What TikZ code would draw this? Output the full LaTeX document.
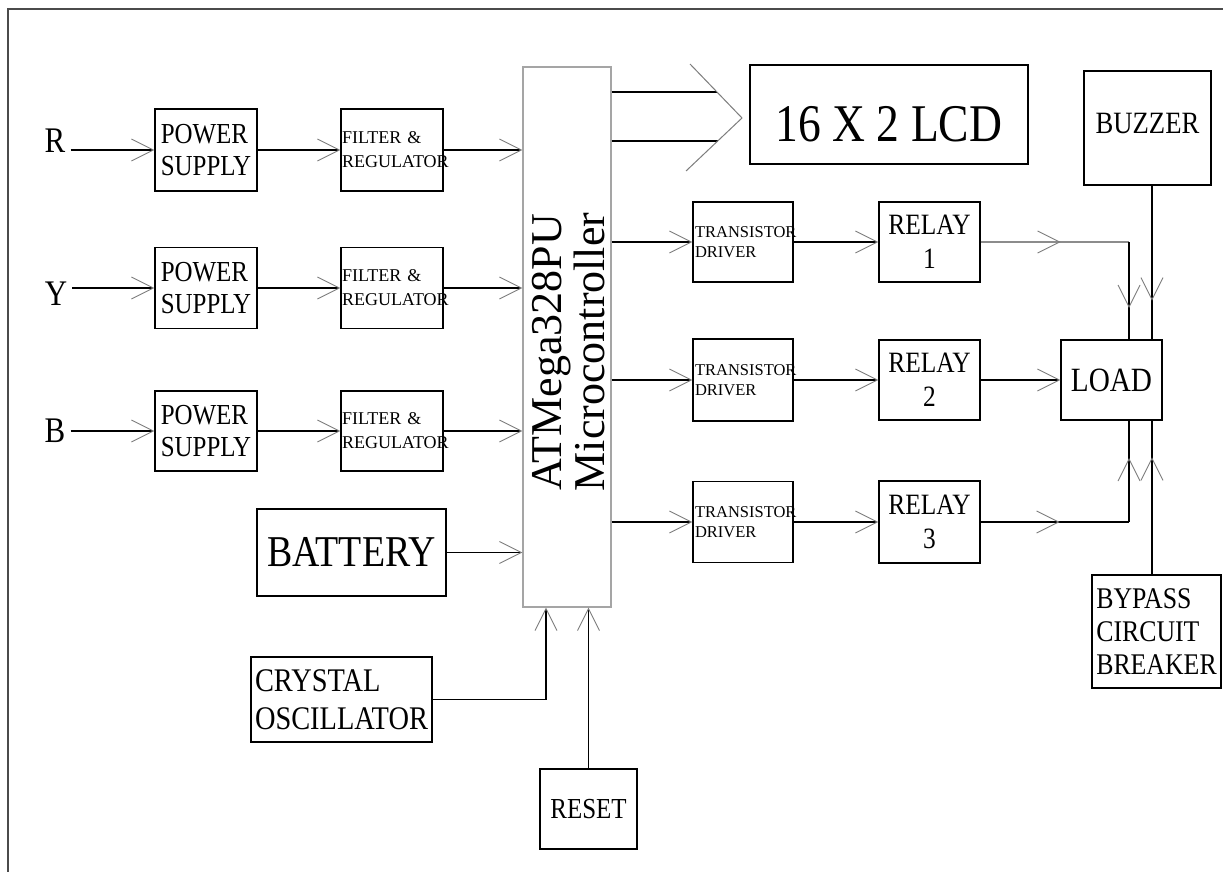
\documentclass[tikz,border=0pt]{standalone}
\usepackage{fontspec}
\setmainfont{Liberation Serif}[FakeStretch=0.86]
\newfontfamily\plainfont{Liberation Serif}
\usetikzlibrary{arrows.meta,decorations.markings}
\definecolor{arrgray}{RGB}{125,125,125}
\definecolor{mcugray}{RGB}{165,165,165}
\definecolor{framegray}{RGB}{75,75,75}
\definecolor{lgray}{RGB}{140,140,140}
\newcommand\fsz[2]{\fontsize{#1pt}{#2pt}\selectfont}
\newcommand\barb{\arrow{Straight Barb[length=22pt,width=22pt,color=arrgray,line width=0.9pt]}}
\tikzset{
  box/.style={draw=black, line width=1.2pt, inner sep=2pt, align=center},
  conn/.style={line width=1.1pt, draw=black},
  arr/.style={conn, -{Straight Barb[length=22pt,width=22pt,color=arrgray,line width=0.9pt]}},
  midarr/.style={postaction={decorate}, decoration={markings, mark=at position #1 with {\barb}}},
  lbl/.style={font=\fsz{36}{36}, inner xsep=5pt, inner ysep=0pt},
  psbox/.style={box, minimum width=102pt, font=\fsz{29}{32}, align=left},
  filtbox/.style={box, minimum width=102pt, font=\plainfont\fsz{18}{24}, align=left, text width=100pt, inner xsep=1pt},
  tdbox/.style={box, minimum width=100pt, font=\plainfont\fsz{16.5}{20}, align=left, text width=96pt, inner xsep=2pt},
  relaybox/.style={box, minimum width=101pt, font=\fsz{29.5}{34}},
}
\begin{document}
\begin{tikzpicture}[x=1pt,y=-1pt]
\useasboundingbox (0,0) rectangle (1223,872);
\fill[white] (0,0) rectangle (1223,872);
\draw[framegray, line width=2pt] (8,872) -- (8,9.5) -- (1223,9.5);

% phase labels
\node[lbl, anchor=base] (lr) at (55,153) {R};
\node[lbl, anchor=base] (ly) at (56,305) {Y};
\node[lbl, anchor=base] (lb) at (55,442) {B};

% power supplies
\node[psbox, minimum height=82pt] (ps1) at (206,150) {POWER\\SUPPLY};
\node[psbox, minimum height=81pt] (ps2) at (206,288) {POWER\\SUPPLY};
\node[psbox, minimum height=80pt] (ps3) at (206,431) {POWER\\SUPPLY};

% filters
\node[filtbox, minimum height=82pt] (f1) at (392,150) {FILTER \&\\REGULATOR};
\node[filtbox, minimum height=81pt] (f2) at (392,288) {FILTER \&\\REGULATOR};
\node[filtbox, minimum height=80pt] (f3) at (392,431) {FILTER \&\\REGULATOR};

% microcontroller
\node[draw=mcugray, line width=1.1pt, minimum width=88pt, minimum height=540pt, inner sep=0pt] (mcu) at (567,337) {};
\node[rotate=90, font=\plainfont\fsz{44}{43}, align=center, inner sep=0pt] (mcut) at (569,352) {ATMega328PU\\Microcontroller};

% battery, crystal, reset
\node[box, minimum width=189pt, minimum height=87pt, font=\fsz{44}{44}] (bat) at (351.5,552.5) {BATTERY};
\node[box, minimum width=181pt, minimum height=85pt, font=\fsz{33}{38}, align=left] (cry) at (341.5,699.5) {CRYSTAL\\OSCILLATOR};
\node[box, minimum width=97pt, minimum height=80pt, font=\fsz{29}{29}] (reset) at (588.5,809) {RESET};

% LCD
\node[box, minimum width=278pt, minimum height=99pt, font=\fsz{53}{53}, text height=60pt, text depth=5pt] (lcd) at (889,114.5) {16 X 2 LCD};

% drivers and relays
\node[tdbox, minimum height=80pt] (td1) at (743,242) {TRANSISTOR\\DRIVER};
\node[tdbox, minimum height=82pt] (td2) at (743,380) {TRANSISTOR\\DRIVER};
\node[tdbox, minimum height=81pt] (td3) at (743,522) {TRANSISTOR\\DRIVER};
\node[relaybox, minimum height=80pt] (r1) at (929.5,242) {RELAY\\1};
\node[relaybox, minimum height=80pt] (r2) at (929.5,380) {RELAY\\2};
\node[relaybox, minimum height=82pt] (r3) at (929.5,522) {RELAY\\3};

% right side
\node[box, minimum width=101pt, minimum height=80pt, font=\fsz{34}{34}] (load) at (1111.5,380) {LOAD};
\node[box, minimum width=127pt, minimum height=114pt, font=\fsz{31}{31}, text depth=10pt] (buzzer) at (1147.5,128) {BUZZER};
\node[box, minimum width=129pt, minimum height=113pt, font=\fsz{30}{33}, align=left] (bypass) at (1156.5,631.5) {BYPASS\\CIRCUIT\\BREAKER};

% helper coordinates
\coordinate (lx1) at (1129,0);
\coordinate (lx2) at (1152,0);
\coordinate (cx) at (546,0);
\coordinate (bA) at (717,92);
\coordinate (bB) at (718,141);
\coordinate (c1) at (690,64);
\coordinate (ctip) at (742,118);
\coordinate (c2) at (686,171);

% input chains
\draw[arr] (lr.east |- ps1.west) -- (ps1.west);
\draw[arr] (ly.east |- ps2.west) -- (ps2.west);
\draw[arr] (lb.east |- ps3.west) -- (ps3.west);
\draw[arr] (ps1.east) -- (f1.west);
\draw[arr] (ps2.east) -- (f2.west);
\draw[arr] (ps3.east) -- (f3.west);
\draw[arr] (f1.east) -- (f1.east -| mcu.west);
\draw[arr] (f2.east) -- (f2.east -| mcu.west);
\draw[arr] (f3.east) -- (f3.east -| mcu.west);
\draw[arr] (bat.east) -- (bat.east -| mcu.west);

% crystal and reset
\draw[arr] (cry.east) -- (cry.east -| cx) -- (cx |- mcu.south);
\draw[arr] (reset.north) -- (reset.north |- mcu.south);

% LCD bus
\draw[conn] (bA -| mcu.east) -- (bA);
\draw[conn] (bB -| mcu.east) -- (bB);
\draw[arrgray, line width=1pt] (c1) -- (ctip) -- (c2);

% outputs
\draw[arr] (td1.west -| mcu.east) -- (td1.west);
\draw[arr] (td2.west -| mcu.east) -- (td2.west);
\draw[arr] (td3.west -| mcu.east) -- (td3.west);
\draw[arr] (td1.east) -- (r1.west);
\draw[arr] (td2.east) -- (r2.west);
\draw[arr] (td3.east) -- (r3.west);
\draw[arr] (r2.east) -- (load.west);

\draw[conn, draw=lgray, midarr=80pt] (r1.east) -- (r1.east -| lx1);
\draw[conn, midarr=66pt] (r1.east -| lx1) -- (load.north -| lx1);
\draw[conn, midarr=115pt] (buzzer.south -| lx2) -- (load.north -| lx2);
\draw[conn, midarr=79pt] (r3.east) -- (r3.east -| lx1);
\draw[conn, midarr=64pt] (r3.east -| lx1) -- (load.south -| lx1);
\draw[conn, midarr=117pt] (bypass.north -| lx2) -- (load.south -| lx2);
\end{tikzpicture}
\end{document}
